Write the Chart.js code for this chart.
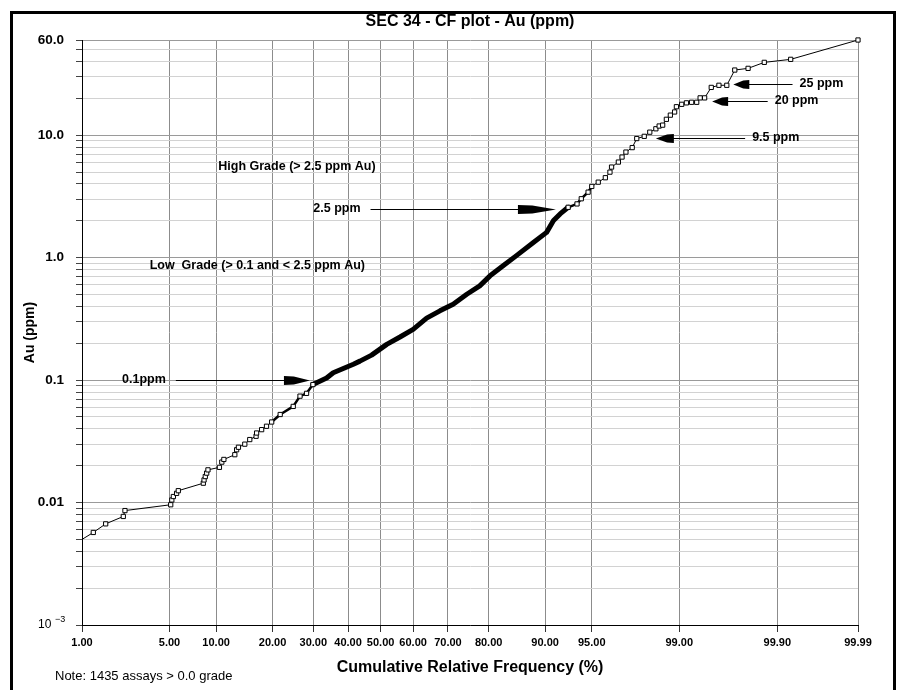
<!DOCTYPE html>
<html>
<head>
<meta charset="utf-8">
<script src="https://cdn.jsdelivr.net/npm/chart.js@4.4.0/dist/chart.umd.min.js"></script>
<style>
  html, body { margin: 0; padding: 0; background: #fff; }
  #wrap { width: 897px; height: 690px; }
</style>
</head>
<body>
<div id="wrap"><canvas id="cfChart" width="897" height="690"></canvas></div>
<script>
// cumulative relative frequency (%) and Au grade (ppm)
const cumPct = [
  1.00, 1.26, 1.61, 2.25, 2.32, 5.10, 5.19, 5.32, 5.60, 5.75,
  8.36, 8.45, 8.60, 8.77, 8.93, 10.46, 10.80, 11.10, 12.80, 13.10,
  13.40, 14.50, 15.40, 16.60, 16.70, 17.70, 18.70, 19.80, 21.70, 24.80,
  26.50, 28.20, 29.90, 33.70, 35.60, 41.60, 43.60, 47.20, 51.90, 56.00,
  60.00, 64.00, 67.80, 71.40, 74.90, 78.00, 80.30, 83.00, 85.50, 88.30,
  90.20, 91.10, 91.90, 92.80, 93.70, 94.10, 94.70, 95.00, 95.50, 96.00,
  96.30, 96.40, 96.80, 97.00, 97.20, 97.50, 97.70, 98.00, 98.20, 98.40,
  98.50, 98.60, 98.70, 98.80, 98.90, 98.94, 99.05, 99.14, 99.23, 99.31,
  99.36, 99.42, 99.50, 99.58, 99.65, 99.71, 99.79, 99.86, 99.93, 99.99
];
const auPpm = [
  0.0050, 0.0057, 0.0067, 0.0077, 0.0086, 0.0096, 0.0105, 0.0112, 0.0119, 0.0125,
  0.0144, 0.0153, 0.0163, 0.0174, 0.0185, 0.0194, 0.0214, 0.0225, 0.0246, 0.0270,
  0.0283, 0.0300, 0.0327, 0.0348, 0.0370, 0.0394, 0.0420, 0.0455, 0.0524, 0.0610,
  0.0740, 0.0780, 0.0920, 0.1040, 0.1150, 0.1350, 0.1430, 0.1600, 0.1960, 0.2250,
  0.2600, 0.3210, 0.3680, 0.4170, 0.5030, 0.5890, 0.7110, 0.8590, 1.0400, 1.3300,
  1.6100, 2.0100, 2.2800, 2.5800, 2.7500, 3.0300, 3.4300, 3.8200, 4.1400, 4.5000,
  5.0000, 5.5000, 6.0400, 6.6400, 7.2900, 7.9300, 9.4000, 9.8000, 10.600, 11.300,
  11.900, 12.100, 13.500, 14.600, 15.500, 17.100, 17.900, 18.400, 18.600, 18.600,
  20.200, 20.200, 24.600, 25.600, 25.600, 34.100, 35.200, 39.400, 41.700, 60.000
];

const xTickPct = [1, 5, 10, 20, 30, 40, 50, 60, 70, 80, 90, 95, 99, 99.9, 99.99];
const xTickLabels = ['1.00', '5.00', '10.00', '20.00', '30.00', '40.00', '50.00', '60.00',
  '70.00', '80.00', '90.00', '95.00', '99.00', '99.90', '99.99'];
const yMajor = [0.001, 0.01, 0.1, 1, 10, 60];
const yMajorLabels = ['', '0.01', '0.1', '1.0', '10.0', '60.0'];

// text labels on the plot (pct / ppm position of the text's left edge)
const gradeLabels = [
  { text: 'High Grade (> 2.5 ppm Au)', pct: 10.3, au: 5.6 },
  { text: 'Low  Grade (> 0.1 and < 2.5 ppm Au)', pct: 3.6, au: 0.86 }
];
// arrows: text start, level, arrow tip
const arrows = [
  { text: '2.5 ppm', pct: 30.0, au: 2.5, tip: 91.4, dir: 1, len: 38 },
  { text: '0.1ppm', pct: 2.2, au: 0.1, tip: 29.1, dir: 1, len: 26 },
  { text: '25 ppm', pct: 99.945, au: 26, tip: 99.70, dir: -1, len: 16 },
  { text: '20 ppm', pct: 99.893, au: 19, tip: 99.51, dir: -1, len: 16 },
  { text: '9.5 ppm', pct: 99.81, au: 9.5, tip: 98.40, dir: -1, len: 18 }
];

const FONT = '"Liberation Sans", Arial, sans-serif';

// inverse normal cdf, used as the probability axis transform
function probit(pct) {
  const p = pct / 100;
  const a = [-39.69683028665376, 220.9460984245205, -275.9285104469687, 138.3577518672690, -30.66479806614716, 2.506628277459239];
  const b = [-54.47609879822406, 161.5858368580409, -155.6989798598866, 66.80131188771972, -13.28068155288572];
  const c = [-0.007784894002430293, -0.3223964580411365, -2.400758277161838, -2.549732539343734, 4.374664141464968, 2.938163982698783];
  const d = [0.007784695709041462, 0.3224671290700398, 2.445134137142996, 3.754408661907416];
  const lo = 0.02425;
  let q, r;
  if (p < lo) {
    q = Math.sqrt(-2 * Math.log(p));
    return (((((c[0]*q+c[1])*q+c[2])*q+c[3])*q+c[4])*q+c[5]) / ((((d[0]*q+d[1])*q+d[2])*q+d[3])*q+1);
  }
  if (p > 1 - lo) {
    q = Math.sqrt(-2 * Math.log(1 - p));
    return -(((((c[0]*q+c[1])*q+c[2])*q+c[3])*q+c[4])*q+c[5]) / ((((d[0]*q+d[1])*q+d[2])*q+d[3])*q+1);
  }
  q = p - 0.5; r = q * q;
  return (((((a[0]*r+a[1])*r+a[2])*r+a[3])*r+a[4])*r+a[5])*q / (((((b[0]*r+b[1])*r+b[2])*r+b[3])*r+b[4])*r+1);
}

// log gridlines 1..9 per decade, up to 60
const yGrid = [];
[0.001, 0.01, 0.1, 1, 10].forEach(dec => {
  for (let m = 1; m <= 9; m++) {
    const v = parseFloat((m * dec).toPrecision(3));
    if (v <= 60) yGrid.push(v);
  }
});

// the dense middle part draws as a heavy band
function bandWidth(a, b) {
  if (a >= 29.9 && b <= 92.8) return 5;
  if (a >= 19.8 && b <= 29.9) return 2.5;
  if (a >= 92.8 && b <= 95.0) return 2.5;
  return 1;
}

const framePlugin = {
  id: 'frame',
  beforeDraw(chart) {
    const ctx = chart.ctx;
    ctx.save();
    ctx.fillStyle = '#fff';
    ctx.fillRect(0, 0, chart.width, chart.height);
    ctx.restore();
  },
  afterDraw(chart) {
    const ctx = chart.ctx;
    const area = chart.chartArea;
    const x = chart.scales.x, y = chart.scales.y;
    ctx.save();
    ctx.strokeStyle = '#000';
    ctx.lineWidth = 3;
    ctx.strokeRect(11.5, 12.5, 883, 700);

    ctx.fillStyle = '#000';
    ctx.textBaseline = 'middle';
    ctx.textAlign = 'center';
    ctx.font = 'bold 16px ' + FONT;
    ctx.fillText('SEC 34 - CF plot - Au (ppm)', (area.left + area.right) / 2, 22);

    ctx.textAlign = 'left';
    ctx.font = '13px ' + FONT;
    ctx.fillText('Note: 1435 assays > 0.0 grade', 55, 676);

    // 10^-3 label
    const yb = y.getPixelForValue(0.001);
    ctx.font = '12px ' + FONT;
    ctx.fillText('10', 38, yb);
    ctx.font = '9px ' + FONT;
    ctx.fillText('\u22123', 55, yb - 5);

    ctx.font = 'bold 12.5px ' + FONT;
    gradeLabels.forEach(g => {
      ctx.fillText(g.text, x.getPixelForValue(probit(g.pct)), y.getPixelForValue(g.au));
    });

    arrows.forEach(a => {
      const tx = x.getPixelForValue(probit(a.pct));
      const py = Math.round(y.getPixelForValue(a.au)) + 0.5;
      const tip = x.getPixelForValue(probit(a.tip));
      const w = ctx.measureText(a.text).width;
      ctx.fillText(a.text, tx, py - 1);
      const start = a.dir > 0 ? tx + w + 10 : tx - 7;
      ctx.lineWidth = 1;
      ctx.beginPath();
      ctx.moveTo(start, py);
      ctx.lineTo(tip - a.dir * a.len * 0.5, py);
      ctx.stroke();
      const back = tip - a.dir * a.len;
      const mid = tip - a.dir * a.len * 0.62;
      ctx.beginPath();
      ctx.moveTo(back, py - 4.5);
      ctx.lineTo(mid, py - 4);
      ctx.lineTo(tip, py);
      ctx.lineTo(mid, py + 4);
      ctx.lineTo(back, py + 4.5);
      ctx.closePath();
      ctx.fill();
    });
    ctx.restore();
  }
};

const points = cumPct.map((p, i) => ({ x: probit(p), y: auPpm[i] }));

new Chart(document.getElementById('cfChart'), {
  type: 'line',
  data: {
    datasets: [{
      label: 'Au',
      data: points,
      borderColor: '#000',
      borderWidth: 1,
      borderCapStyle: 'round',
      borderJoinStyle: 'round',
      tension: 0,
      fill: false,
      clip: 4,
      pointStyle: 'rect',
      pointRadius: c => {
        const p = cumPct[c.dataIndex];
        if (c.dataIndex === 0) return 0;
        return (p > 29.9 && p < 92.8) ? 0 : 3;
      },
      pointBorderColor: '#000',
      pointBackgroundColor: '#fff',
      pointBorderWidth: 1,
      segment: {
        borderWidth: c => bandWidth(cumPct[c.p0DataIndex], cumPct[c.p1DataIndex])
      }
    }]
  },
  options: {
    responsive: false,
    animation: false,
    layout: { padding: { left: 13, right: 39, top: 40, bottom: 10 } },
    plugins: {
      legend: { display: false },
      tooltip: { enabled: false },
      title: { display: false }
    },
    scales: {
      x: {
        type: 'linear',
        min: probit(xTickPct[0]),
        max: probit(xTickPct[xTickPct.length - 1]),
        afterBuildTicks: s => { s.ticks = xTickPct.map(p => ({ value: probit(p) })); },
        afterFit: s => { s.height = 55; },
        ticks: {
          autoSkip: false,
          maxRotation: 0,
          padding: 4,
          color: '#000',
          font: { family: FONT, size: 11, weight: 'bold' },
          callback: (v, i) => xTickLabels[i]
        },
        grid: { color: '#8c8c8c', tickColor: '#333', tickLength: 7 },
        border: { color: '#000', width: 1 },
        title: {
          display: true,
          text: 'Cumulative Relative Frequency (%)',
          color: '#000',
          font: { family: FONT, size: 16, weight: 'bold' },
          padding: { top: 0, bottom: 3 }
        }
      },
      y: {
        type: 'logarithmic',
        min: 0.001,
        max: 60,
        afterBuildTicks: s => { s.ticks = yGrid.map(v => ({ value: v })); },
        afterFit: s => { s.width = 69; },
        ticks: {
          autoSkip: false,
          padding: 12,
          color: '#000',
          font: { family: FONT, size: 13.5, weight: 'bold' },
          callback: v => {
            const k = yMajor.indexOf(v);
            return k < 0 ? '' : yMajorLabels[k];
          }
        },
        grid: {
          color: c => yMajor.includes(c.tick && c.tick.value) ? '#9a9a9a' : '#d2d2d2',
          tickColor: '#444',
          tickLength: 6
        },
        border: { color: '#000', width: 1 },
        title: {
          display: true,
          text: 'Au (ppm)',
          color: '#000',
          font: { family: FONT, size: 14, weight: 'bold' },
          padding: { top: 9, bottom: 0 }
        }
      }
    }
  },
  plugins: [framePlugin]
});
</script>
</body>
</html>
